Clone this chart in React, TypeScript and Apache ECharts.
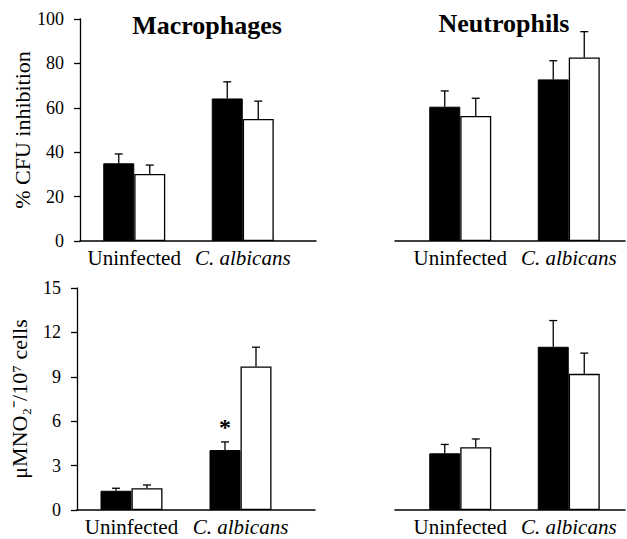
import React, { useEffect, useRef } from "react";
import * as echarts from "echarts";

const categories = ["Uninfected", "C. albicans"];
const italicCategories = ["C. albicans"];
const panelTitles = ["Macrophages", "Neutrophils"];
const cfuAxisName = "% CFU inhibition";
const noAxisName = "μMNO₂⁻/10⁷ cells";

// % CFU inhibition
const macCfuFilled = [35, 64.2];
const macCfuFilledErr = [4.2, 7.5];
const macCfuOpen = [30.2, 55];
const macCfuOpenErr = [4, 8];
const neuCfuFilled = [60.5, 72.8];
const neuCfuFilledErr = [7.1, 8.4];
const neuCfuOpen = [56.3, 82.7];
const neuCfuOpenErr = [8, 11.6];

// µM NO2- / 10^7 cells
const macNoFilled = [1.3, 4.05];
const macNoFilledErr = [0.17, 0.55];
const macNoOpen = [1.47, 9.7];
const macNoOpenErr = [0.22, 1.3];
const neuNoFilled = [3.83, 11.03];
const neuNoFilledErr = [0.6, 1.77];
const neuNoOpen = [4.24, 9.2];
const neuNoOpenErr = [0.56, 1.4];

// significance markers on the filled bars of the macrophage NO panel
const macNoFilledSig = ["", "*"];

const SERIF = "Liberation Serif";
const BAR_W = 31;

export default function App() {
  const ref = useRef<HTMLDivElement>(null);

  useEffect(() => {
    if (!ref.current) return;
    const chart = echarts.init(ref.current, null, { renderer: "svg" });

    const panels = [
      {
        grid: { left: 80, top: 19, width: 217, height: 222 },
        line: { left: 80, top: 19, width: 236, height: 222 },
        showY: true, max: 100, interval: 20, name: cfuAxisName,
        filled: macCfuFilled, filledErr: macCfuFilledErr,
        open: macCfuOpen, openErr: macCfuOpenErr, sig: ["", ""],
      },
      {
        grid: { left: 406, top: 19, width: 217, height: 222 },
        line: { left: 395, top: 19, width: 230, height: 222 },
        showY: false, max: 100, interval: 20, name: "",
        filled: neuCfuFilled, filledErr: neuCfuFilledErr,
        open: neuCfuOpen, openErr: neuCfuOpenErr, sig: ["", ""],
      },
      {
        grid: { left: 77, top: 288, width: 218, height: 222 },
        line: { left: 77, top: 288, width: 238, height: 222 },
        showY: true, max: 15, interval: 3, name: noAxisName,
        filled: macNoFilled, filledErr: macNoFilledErr,
        open: macNoOpen, openErr: macNoOpenErr, sig: macNoFilledSig,
      },
      {
        grid: { left: 406, top: 288, width: 217, height: 222 },
        line: { left: 395, top: 288, width: 230, height: 222 },
        showY: false, max: 15, interval: 3, name: "",
        filled: neuNoFilled, filledErr: neuNoFilledErr,
        open: neuNoOpen, openErr: neuNoOpenErr, sig: ["", ""],
      },
    ];

    const grids: any[] = [];
    const xAxes: any[] = [];
    const yAxes: any[] = [];
    const series: any[] = [];

    panels.forEach((p, i) => {
      grids.push({ ...p.grid });
      xAxes.push({
        type: "category",
        gridIndex: i,
        data: categories,
        axisLine: { show: false },
        axisTick: { show: false },
        axisLabel: {
          interval: 0,
          hideOverlap: false,
          color: "#000",
          fontFamily: SERIF,
          fontSize: 21,
          margin: 6,
          formatter: (v: string) => (italicCategories.indexOf(v) >= 0 ? "{i|" + v + "}" : "{n|" + v + "}"),
          rich: {
            i: { fontStyle: "italic", fontFamily: SERIF, fontSize: 21, color: "#000" },
            n: { fontStyle: "normal", fontFamily: SERIF, fontSize: 21, color: "#000" },
          },
        },
      });
      yAxes.push({
        type: "value",
        gridIndex: i,
        min: 0,
        max: p.max,
        interval: p.interval,
        show: p.showY,
        name: p.name,
        nameLocation: "middle",
        nameRotate: 90,
        nameGap: 47,
        nameTextStyle: { color: "#000", fontFamily: SERIF, fontSize: 22 },
        axisLine: { show: true, lineStyle: { color: "#000", width: 1.3 } },
        axisTick: { show: true, length: 6, lineStyle: { color: "#000", width: 1.3 } },
        axisLabel: { color: "#000", fontFamily: SERIF, fontSize: 18, margin: 16 },
        splitLine: { show: false },
      });
    });

    panels.forEach((p, i) => {
      const gi = panels.length + i;
      grids.push({ ...p.line });
      xAxes.push({
        type: "value",
        gridIndex: gi,
        min: 0,
        max: 1,
        axisLine: { show: true, onZero: false, lineStyle: { color: "#000", width: 1.5 } },
        axisTick: { show: false },
        axisLabel: { show: false },
        splitLine: { show: false },
      });
      yAxes.push({ type: "value", gridIndex: gi, show: false, min: 0, max: 1, splitLine: { show: false } });
    });

    const errSeries = (i: number, vals: number[], errs: number[], offset: number, sig: string[]) => ({
      type: "custom",
      xAxisIndex: i,
      yAxisIndex: i,
      z: 5,
      data: vals.map((v, k) => [k, v, errs[k]]),
      encode: { x: 0, y: 1 },
      renderItem: (params: any, api: any) => {
        const c = api.value(0);
        const v = api.value(1);
        const e = api.value(2);
        const base = api.coord([c, v]);
        const top = api.coord([c, v + e]);
        const x = base[0] + offset;
        const children: any[] = [
          { type: "line", shape: { x1: x, y1: base[1], x2: x, y2: top[1] }, style: { stroke: "#000", lineWidth: 1.3 } },
          { type: "line", shape: { x1: x - 4, y1: top[1], x2: x + 4, y2: top[1] }, style: { stroke: "#000", lineWidth: 1.3 } },
        ];
        const s = sig[params.dataIndex];
        if (s) {
          children.push({
            type: "text",
            x: x,
            y: top[1] - 15,
            style: { text: s, fill: "#000", fontFamily: SERIF, fontWeight: "bold", fontSize: 24, align: "center", verticalAlign: "middle" },
          });
        }
        return { type: "group", children };
      },
    });

    panels.forEach((p, i) => {
      series.push({
        type: "bar",
        name: "filled",
        xAxisIndex: i,
        yAxisIndex: i,
        data: p.filled,
        barWidth: BAR_W,
        barGap: "0%",
        itemStyle: { color: "#000", borderColor: "#000", borderWidth: 1 },
      });
      series.push({
        type: "bar",
        name: "open",
        xAxisIndex: i,
        yAxisIndex: i,
        data: p.open,
        barWidth: BAR_W,
        barGap: "0%",
        itemStyle: { color: "#fff", borderColor: "#000", borderWidth: 1.3 },
      });
      series.push(errSeries(i, p.filled, p.filledErr, -BAR_W / 2, p.sig));
      series.push(errSeries(i, p.open, p.openErr, BAR_W / 2, ["", ""]));
    });

    chart.setOption({
      animation: false,
      backgroundColor: "#fff",
      grid: grids,
      xAxis: xAxes,
      yAxis: yAxes,
      series,
      graphic: [
        {
          type: "text",
          x: 207,
          y: 25,
          style: { text: panelTitles[0], fill: "#000", fontFamily: SERIF, fontWeight: "bold", fontSize: 26, align: "center", verticalAlign: "middle" },
        },
        {
          type: "text",
          x: 504,
          y: 23,
          style: { text: panelTitles[1], fill: "#000", fontFamily: SERIF, fontWeight: "bold", fontSize: 26, align: "center", verticalAlign: "middle" },
        },
      ],
    });

    return () => chart.dispose();
  }, []);

  return (
    <div
      ref={ref}
      style={{ position: "absolute", left: 0, top: 0, width: 627, height: 539, background: "#fff" }}
    />
  );
}
